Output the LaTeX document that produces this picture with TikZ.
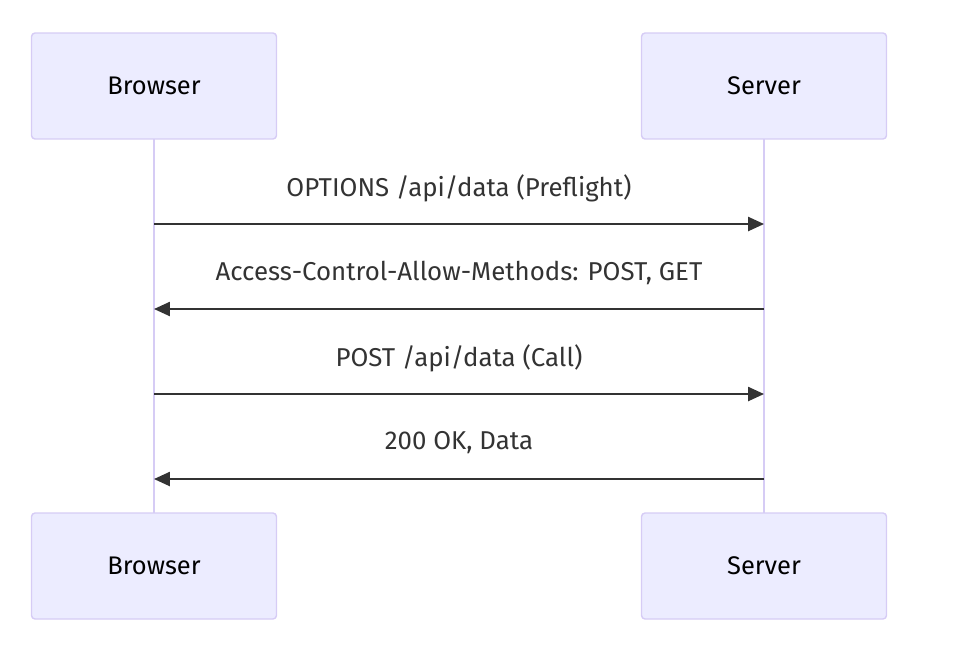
\documentclass[tikz,border=0pt]{standalone}
\usepackage{fontspec}
\setmainfont{Fira Sans}
\usetikzlibrary{arrows.meta}
\definecolor{actorfill}{HTML}{ECECFF}
\definecolor{actorline}{HTML}{D6CCF5}
\definecolor{msgcol}{HTML}{333333}
\tikzset{actor/.style={draw=actorline, fill=actorfill, rounded corners=2pt, line width=0.8pt, minimum width=4.9cm, minimum height=2.12cm, font=\fontsize{14.5}{17}\selectfont},
  msg/.style={draw=msgcol, line width=1pt, -{Triangle[length=9pt,width=8pt]}},
  msglabel/.style={text=msgcol, font=\fontsize{14.7}{17}\selectfont}}
\begin{document}
\begin{tikzpicture}[x=0.02cm,y=-0.02cm]
\useasboundingbox (0,0) rectangle (966,664);
\draw[actorline, line width=1.5pt] (154,139) -- (154,513);
\draw[actorline, line width=1.5pt] (764,139) -- (764,513);
\node[actor] (b1) at (154,86) {Browser};
\node[actor] (s1) at (764,86) {Server};
\node[actor] (b2) at (154,566) {Browser};
\node[actor] (s2) at (764,566) {Server};
\coordinate (b224) at (154,224); \coordinate (s224) at (764,224);
\coordinate (b309) at (154,309); \coordinate (s309) at (764,309);
\coordinate (b394) at (154,394); \coordinate (s394) at (764,394);
\coordinate (b479) at (154,479); \coordinate (s479) at (764,479);
\draw[msg] (b224) -- (s224);
\draw[msg] (s309) -- (b309);
\draw[msg] (b394) -- (s394);
\draw[msg] (s479) -- (b479);
\node[msglabel] (m1) at (459,188) {OPTIONS /api/data (Preflight)};
\node[msglabel] (m2) at (459,273) {Access-Control-Allow-Methods: POST, GET};
\node[msglabel] (m3) at (459,358) {POST /api/data (Call)};
\node[msglabel] (m4) at (459,443) {200 OK, Data};
\end{tikzpicture}
\end{document}
